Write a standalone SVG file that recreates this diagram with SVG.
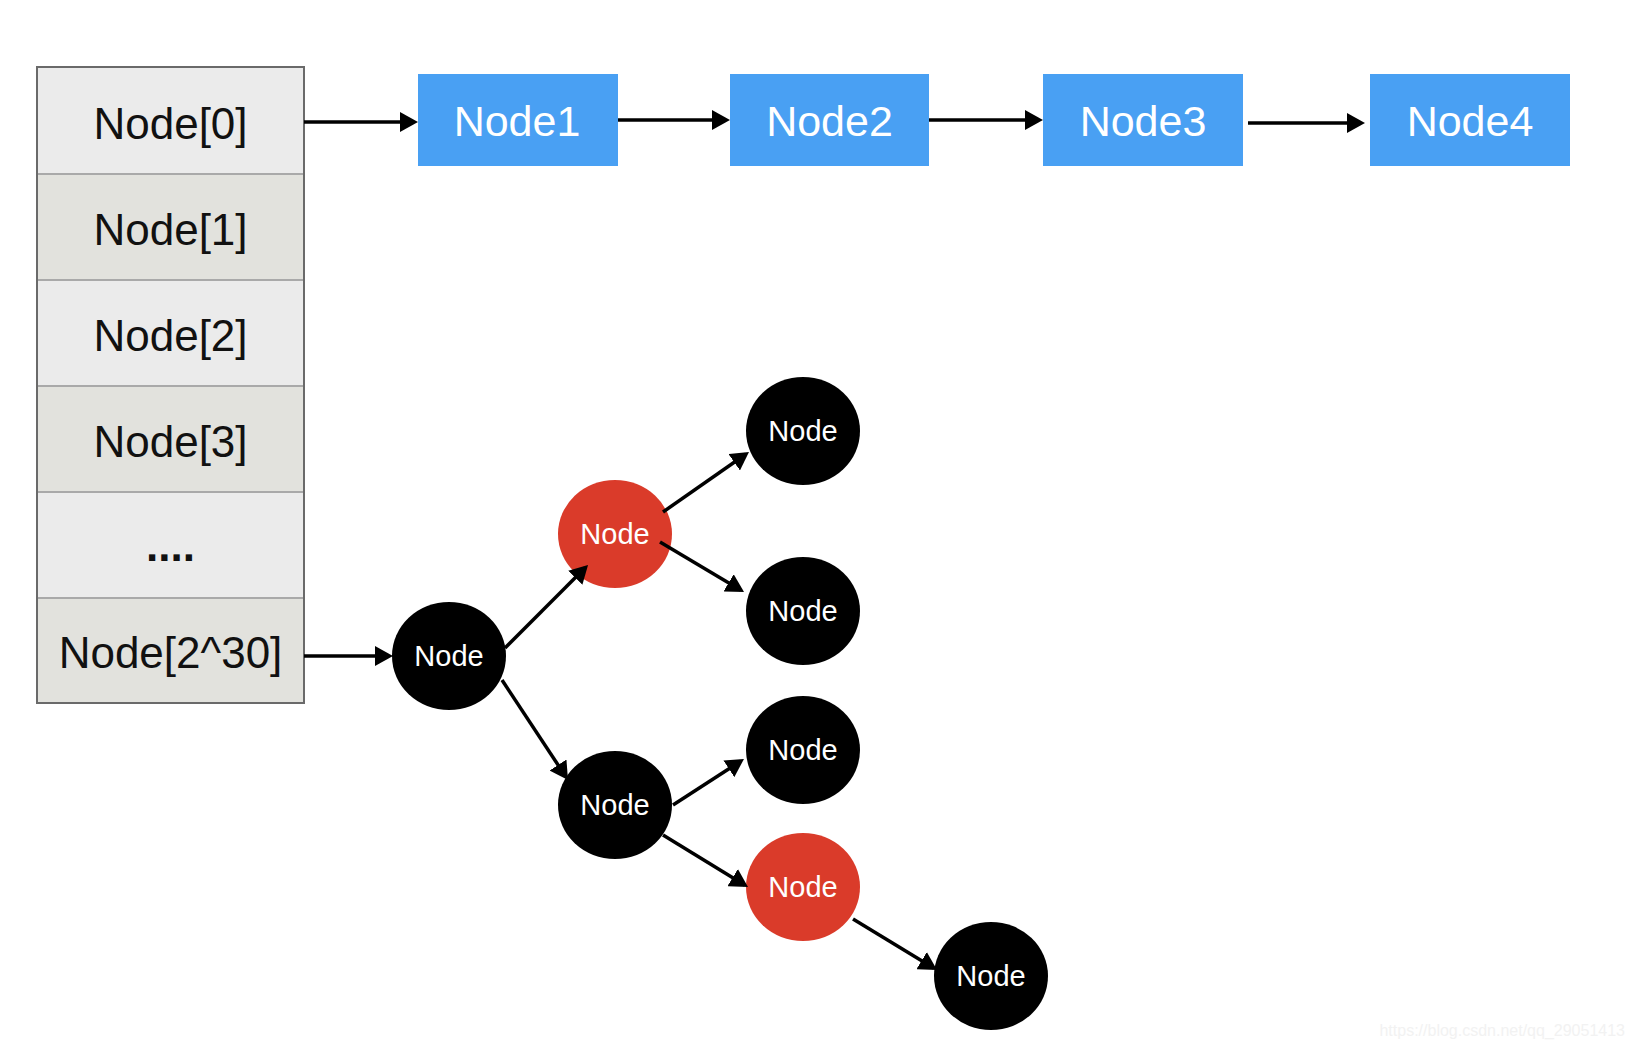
<svg xmlns="http://www.w3.org/2000/svg" width="1630" height="1048" viewBox="0 0 1630 1048">
<defs>
<marker id="ah" markerUnits="userSpaceOnUse" markerWidth="18" markerHeight="20" refX="14" refY="10" orient="auto">
<path d="M0,0 L18,10 L0,20 Z" fill="#000"/>
</marker>
<style>
.cell-a{fill:#ebebeb}
.cell-b{fill:#e2e2dd}
.div{stroke:#a9a9a9;stroke-width:2}
.tt{font-family:"Liberation Sans",Arial,sans-serif;font-size:44px;fill:#111;text-anchor:middle}
.box{fill:#49a0f3}
.bt{font-family:"Liberation Sans",Arial,sans-serif;font-size:43px;fill:#fff;text-anchor:middle}
.blk{fill:#000}
.red{fill:#da3b2a}
.nt{font-family:"Liberation Sans",Arial,sans-serif;font-size:29px;fill:#fff;text-anchor:middle}
.edge{stroke:#000;stroke-width:3.5;fill:none;marker-end:url(#ah)}
</style>
</defs>
<rect width="1630" height="1048" fill="#fff"/>
<g id="table">
<rect class="cell-a" x="37" y="67" width="267" height="107"/>
<rect class="cell-b" x="37" y="174" width="267" height="106"/>
<rect class="cell-a" x="37" y="280" width="267" height="106"/>
<rect class="cell-b" x="37" y="386" width="267" height="106"/>
<rect class="cell-a" x="37" y="492" width="267" height="106"/>
<rect class="cell-b" x="37" y="598" width="267" height="105"/>
<line class="div" x1="38" y1="174" x2="303" y2="174"/>
<line class="div" x1="38" y1="280" x2="303" y2="280"/>
<line class="div" x1="38" y1="386" x2="303" y2="386"/>
<line class="div" x1="38" y1="492" x2="303" y2="492"/>
<line class="div" x1="38" y1="598" x2="303" y2="598"/>
<rect x="37" y="67" width="267" height="636" fill="none" stroke="#6a6a6a" stroke-width="2"/>
<g id="cell0"><text class="tt" x="170.5" y="139">Node[0]</text></g>
<g id="cell1"><text class="tt" x="170.5" y="245">Node[1]</text></g>
<g id="cell2"><text class="tt" x="170.5" y="351">Node[2]</text></g>
<g id="cell3"><text class="tt" x="170.5" y="457">Node[3]</text></g>
<g id="cell4"><text class="tt" x="170.5" y="561" font-weight="bold">....</text></g>
<g id="cell5"><text class="tt" x="170.5" y="668">Node[2^30]</text></g>
</g>
<g id="node1"><rect class="box" x="418" y="74" width="200" height="92"/><text class="bt" x="517" y="136">Node1</text></g>
<g id="node2"><rect class="box" x="730" y="74" width="199" height="92"/><text class="bt" x="829.5" y="136">Node2</text></g>
<g id="node3"><rect class="box" x="1043" y="74" width="200" height="92"/><text class="bt" x="1143" y="136">Node3</text></g>
<g id="node4"><rect class="box" x="1370" y="74" width="200" height="92"/><text class="bt" x="1470" y="136">Node4</text></g>
<g id="t-root"><ellipse class="blk" cx="449" cy="656" rx="57" ry="54"/><text class="nt" x="449" y="666">Node</text></g>
<g id="t-red1"><ellipse class="red" cx="615" cy="534" rx="57" ry="54"/><text class="nt" x="615" y="544">Node</text></g>
<g id="t-b1"><ellipse class="blk" cx="803" cy="431" rx="57" ry="54"/><text class="nt" x="803" y="441">Node</text></g>
<g id="t-b2"><ellipse class="blk" cx="803" cy="611" rx="57" ry="54"/><text class="nt" x="803" y="621">Node</text></g>
<g id="t-b3"><ellipse class="blk" cx="615" cy="805" rx="57" ry="54"/><text class="nt" x="615" y="815">Node</text></g>
<g id="t-b4"><ellipse class="blk" cx="803" cy="750" rx="57" ry="54"/><text class="nt" x="803" y="760">Node</text></g>
<g id="t-red2"><ellipse class="red" cx="803" cy="887" rx="57" ry="54"/><text class="nt" x="803" y="897">Node</text></g>
<g id="t-b5"><ellipse class="blk" cx="991" cy="976" rx="57" ry="54"/><text class="nt" x="991" y="986">Node</text></g>
<g id="connectors">
<line class="edge" x1="304" y1="122" x2="414" y2="122"/>
<line class="edge" x1="618" y1="120" x2="726" y2="120"/>
<line class="edge" x1="929" y1="120" x2="1039" y2="120"/>
<line class="edge" x1="1248" y1="123" x2="1361" y2="123"/>
<line class="edge" x1="304" y1="656" x2="389" y2="656"/>
<line class="edge" x1="505" y1="648" x2="585.2" y2="567.8"/>
<line class="edge" x1="502" y1="680" x2="565.8" y2="776.7"/>
<line class="edge" x1="663" y1="512" x2="745.7" y2="454.3"/>
<line class="edge" x1="660" y1="542" x2="740.6" y2="590"/>
<line class="edge" x1="673" y1="805" x2="740.6" y2="761.2"/>
<line class="edge" x1="663" y1="835" x2="744.6" y2="884.9"/>
<line class="edge" x1="853" y1="919" x2="933.6" y2="967.9"/>
</g>
<text x="1625" y="1036" font-family="'Liberation Sans',Arial,sans-serif" font-size="16" fill="#f2f2f2" text-anchor="end">https://blog.csdn.net/qq_29051413</text>
</svg>
